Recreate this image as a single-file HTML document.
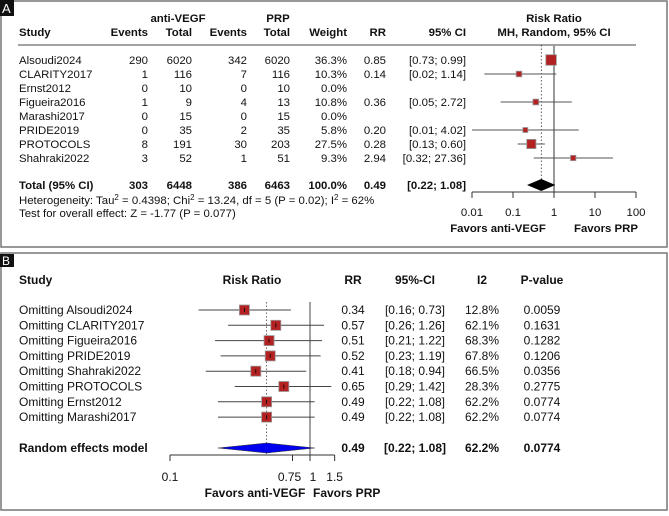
<!DOCTYPE html>
<html><head><meta charset="utf-8"><style>
body{margin:0;background:#fff;}
svg text{font-family:"Liberation Sans",Arial,sans-serif;font-size:11.4px;fill:#111;}
#gb text{font-size:12px;}
.b{font-weight:bold;}
</style></head><body>
<svg id="chart" width="669" height="511" xmlns="http://www.w3.org/2000/svg">
<rect x="1" y="1" width="666" height="246" fill="none" stroke="#777" stroke-width="1.5"/>
<rect x="1" y="253" width="666" height="257" fill="none" stroke="#777" stroke-width="1.5"/>
<rect x="0" y="0" width="14" height="16" fill="#111"/>
<text x="2" y="13" style="fill:#fff;font-size:13px">A</text>
<rect x="0" y="254" width="14" height="13" fill="#111"/>
<text x="2" y="265" style="fill:#fff;font-size:12px">B</text>
<g id="ga"></g><g id="gb"></g>
</svg>
<script>
const studiesA=["Alsoudi2024","CLARITY2017","Ernst2012","Figueira2016","Marashi2017","PRIDE2019","PROTOCOLS","Shahraki2022"];
const evA=["290","1","0","1","0","0","8","3"];
const totA=["6020","116","10","9","15","35","191","52"];
const evP=["342","7","0","4","0","2","30","1"];
const totP=["6020","116","10","13","15","35","203","51"];
const weightA=[36.3,10.3,0,10.8,0,5.8,27.5,9.3];
const rrA=[0.85,0.14,null,0.36,null,0.20,0.28,2.94];
const loA=[0.73,0.02,null,0.05,null,0.01,0.13,0.32];
const hiA=[0.99,1.14,null,2.72,null,4.02,0.60,27.36];
const pooledA=[0.49,0.22,1.08];
const ticksA=[0.01,0.1,1,10,100];

const studiesB=["Omitting Alsoudi2024","Omitting CLARITY2017","Omitting Figueira2016","Omitting PRIDE2019","Omitting Shahraki2022","Omitting PROTOCOLS","Omitting Ernst2012","Omitting Marashi2017"];
const rrB=[0.34,0.57,0.51,0.52,0.41,0.65,0.49,0.49];
const loB=[0.16,0.26,0.21,0.23,0.18,0.29,0.22,0.22];
const hiB=[0.73,1.26,1.22,1.19,0.94,1.42,1.08,1.08];
const i2B=["12.8%","62.1%","68.3%","67.8%","66.5%","28.3%","62.2%","62.2%"];
const pB=["0.0059","0.1631","0.1282","0.1206","0.0356","0.2775","0.0774","0.0774"];
const pooledB=[0.49,0.22,1.08];
const pooledBStats=["62.2%","0.0774"];
const ticksB=[0.1,0.75,1,1.5];

const NS="http://www.w3.org/2000/svg";
function mk(par,tag,at,txt){const e=document.createElementNS(NS,tag);for(const k in at)e.setAttribute(k,at[k]);if(txt!=null)e.textContent=txt;par.appendChild(e);return e;}
const fmt2=v=>v.toFixed(2);
// Panel A
const ga=document.getElementById('ga');
const xA=v=>554+41*Math.log10(v);
const yA=i=>60+i*14;
let t;
t=mk(ga,'text',{x:178,y:22,'text-anchor':'middle',class:'b'},'anti-VEGF');
t=mk(ga,'text',{x:278,y:22,'text-anchor':'middle',class:'b'},'PRP');
t=mk(ga,'text',{x:554,y:22,'text-anchor':'middle',class:'b'},'Risk Ratio');
const hdr=[["Study",19,"start"],["Events",148,"end"],["Total",192,"end"],["Events",247,"end"],["Total",290,"end"],["Weight",347,"end"],["RR",386,"end"],["95% CI",466,"end"],["MH, Random, 95% CI",554,"middle"]];
hdr.forEach(h=>{t=mk(ga,'text',{x:h[1],y:36,'text-anchor':h[2],class:'b'},h[0]);});
t=mk(ga,'line',{x1:18,x2:636,y1:45,y2:45,stroke:'#444','stroke-width':1});
t=mk(ga,'line',{x1:xA(1),x2:xA(1),y1:45,y2:192,stroke:'#999','stroke-width':2});
t=mk(ga,'line',{x1:xA(pooledA[0]),x2:xA(pooledA[0]),y1:45,y2:192,stroke:'#333','stroke-width':0.8,'stroke-dasharray':'1.5,2'});
studiesA.forEach((s,i)=>{const y=yA(i)+4;
 const cells=[[s,19,'start'],[evA[i],148,'end'],[totA[i],192,'end'],[evP[i],247,'end'],[totP[i],290,'end'],[weightA[i].toFixed(1)+'%',347,'end']];
 if(rrA[i]!=null){cells.push([fmt2(rrA[i]),386,'end']);cells.push(['['+fmt2(loA[i])+'; '+(hiA[i]>=10?'':' ')+fmt2(hiA[i])+']',466,'end']);}
 cells.forEach((c,j)=>{t=mk(ga,'text',{x:c[1],y:y,'text-anchor':c[2],'xml:space':'preserve'},c[0]);});
 if(rrA[i]!=null){
  t=mk(ga,'line',{x1:Math.max(472,xA(loA[i])),x2:Math.min(636,xA(hiA[i])),y1:yA(i),y2:yA(i),stroke:'#555','stroke-width':1});
  const h=Math.max(5,Math.sqrt(weightA[i])*1.75);
  t=mk(ga,'rect',{x:xA(rrA[i])-h/2,y:yA(i)-h/2,width:h,height:h,fill:'#b22222',stroke:'#999','stroke-width':0.8});
 }});
const yT=185;
[["Total (95% CI)",19,'start'],["303",148,'end'],["6448",192,'end'],["386",247,'end'],["6463",290,'end'],["100.0%",347,'end'],[fmt2(pooledA[0]),386,'end'],['['+fmt2(pooledA[1])+'; '+' '+fmt2(pooledA[2])+']',466,'end']].forEach(c=>{t=mk(ga,'text',{x:c[1],y:yT+4,'text-anchor':c[2],class:'b','xml:space':'preserve'},c[0]);});
t=mk(ga,'polygon',{points:`${xA(pooledA[1])},${yT} ${xA(pooledA[0])},${yT-6} ${xA(pooledA[2])},${yT} ${xA(pooledA[0])},${yT+6}`,fill:'#000'});
t=mk(ga,'text',{x:19,y:204});t.innerHTML='Heterogeneity: Tau<tspan dy="-4" font-size="8">2</tspan><tspan dy="4"> = 0.4398; Chi</tspan><tspan dy="-4" font-size="8">2</tspan><tspan dy="4"> = 13.24, df = 5 (P = 0.02); I</tspan><tspan dy="-4" font-size="8">2</tspan><tspan dy="4"> = 62%</tspan>';
t=mk(ga,'text',{x:19,y:217},'Test for overall effect: Z = -1.77 (P = 0.077)');
t=mk(ga,'line',{x1:xA(ticksA[0]),x2:xA(ticksA[ticksA.length-1]),y1:192,y2:192,stroke:'#333'});
ticksA.forEach(v=>{t=mk(ga,'line',{x1:xA(v),x2:xA(v),y1:192,y2:198,stroke:'#333'});
 t=mk(ga,'text',{x:xA(v),y:216,'text-anchor':'middle'},String(v));});
t=mk(ga,'text',{x:498,y:232,'text-anchor':'middle',class:'b'},'Favors anti-VEGF');
t=mk(ga,'text',{x:606,y:232,'text-anchor':'middle',class:'b'},'Favors PRP');

// Panel B
const gb=document.getElementById('gb');
const xB=v=>310+140*Math.log10(v);
const yB=i=>310+i*15.3;
[["Study",19,'start'],["Risk Ratio",252,'middle'],["RR",353,'middle'],["95%-CI",415,'middle'],["I2",482,'middle'],["P-value",542,'middle']].forEach(h=>{t=mk(gb,'text',{x:h[1],y:284,'text-anchor':h[2],class:'b'},h[0]);});
t=mk(gb,'line',{x1:xB(1),x2:xB(1),y1:302,y2:455,stroke:'#444','stroke-width':1});
t=mk(gb,'line',{x1:xB(pooledB[0]),x2:xB(pooledB[0]),y1:302,y2:455,stroke:'#444','stroke-width':0.8,'stroke-dasharray':'1.5,2'});
studiesB.forEach((s,i)=>{const y=yB(i);
 t=mk(gb,'text',{x:19,y:y+4},s);
 t=mk(gb,'line',{x1:xB(loB[i]),x2:xB(hiB[i]),y1:y,y2:y,stroke:'#444'});
 t=mk(gb,'rect',{x:xB(rrB[i])-5,y:y-5,width:10,height:10,fill:'#b22222',stroke:'#999','stroke-width':0.8});
 t=mk(gb,'line',{x1:xB(rrB[i]),x2:xB(rrB[i]),y1:y-2,y2:y+2,stroke:'#000','stroke-width':0.8});
 [[fmt2(rrB[i]),353],['['+fmt2(loB[i])+'; '+fmt2(hiB[i])+']',415],[i2B[i],482],[pB[i],542]].forEach(c=>{t=mk(gb,'text',{x:c[1],y:y+4,'text-anchor':'middle'},c[0]);});
});
const yR=448;
t=mk(gb,'text',{x:19,y:yR+4,class:'b'},'Random effects model');
[[fmt2(pooledB[0]),353],['['+fmt2(pooledB[1])+'; '+fmt2(pooledB[2])+']',415],[pooledBStats[0],482],[pooledBStats[1],542]].forEach(c=>{t=mk(gb,'text',{x:c[1],y:yR+4,'text-anchor':'middle',class:'b'},c[0]);});
t=mk(gb,'polygon',{points:`${xB(pooledB[1])},${yR} ${xB(pooledB[0])},${yR-5} ${xB(pooledB[2])},${yR} ${xB(pooledB[0])},${yR+5}`,fill:'#0000ee',stroke:'#333','stroke-width':0.5});
t=mk(gb,'line',{x1:xB(ticksB[0]),x2:xB(ticksB[ticksB.length-1]),y1:455,y2:455,stroke:'#333'});
ticksB.forEach(v=>{t=mk(gb,'line',{x1:xB(v),x2:xB(v),y1:455,y2:461,stroke:'#333'});
 t=mk(gb,'text',{x:xB(v)+(v===0.75?-3:v===1?3:0),y:481,'text-anchor':'middle'},String(v));});
t=mk(gb,'text',{x:255,y:497,'text-anchor':'middle',class:'b'},'Favors anti-VEGF');
t=mk(gb,'text',{x:313,y:497,class:'b'},'Favors PRP');
</script>
</body></html>
